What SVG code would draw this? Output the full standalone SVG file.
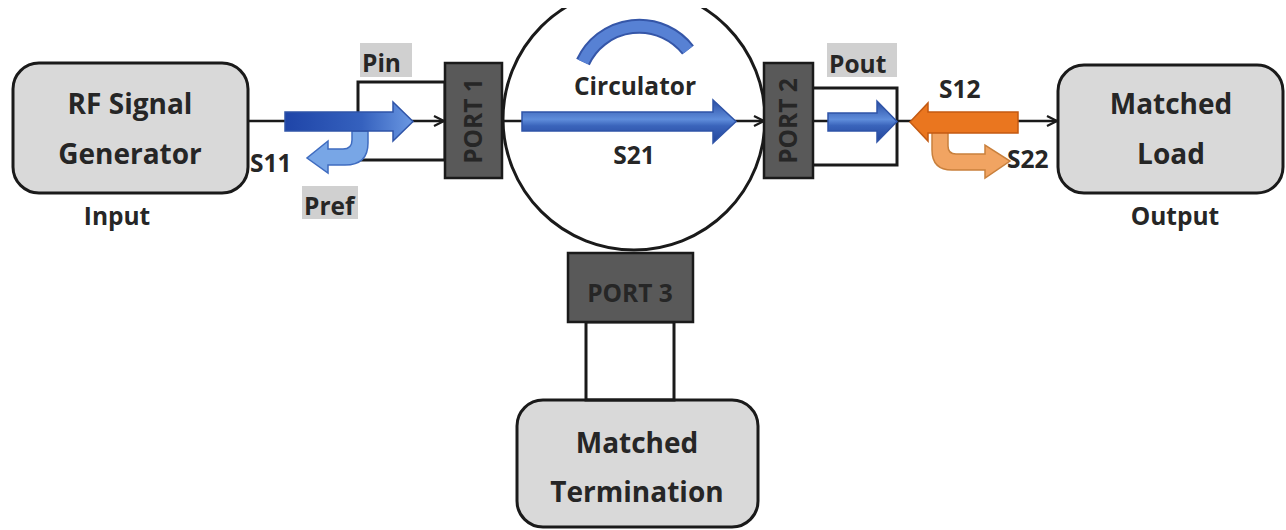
<svg xmlns="http://www.w3.org/2000/svg" width="1286" height="530" viewBox="0 0 1286 530">
  <defs>
    <style>
      .box { fill: #d9d9d9; stroke: #1a1a1a; stroke-width: 3; }
      .port { fill: #595959; stroke: #1a1a1a; stroke-width: 2.5; }
      .frame { fill: none; stroke: #1a1a1a; stroke-width: 3; }
      .wire { fill: none; stroke: #1a1a1a; stroke-width: 2.5; }
      .lblbg { fill: #d0d0d0; }
      text { font-family: "Open Sans", "Liberation Sans", sans-serif; font-weight: 700; fill: #262626; }
      .big { font-size: 28px; text-anchor: middle; }
      .mid { font-size: 24.5px; }
      .ctr { text-anchor: middle; }
      .blue { stroke: #2f54a8; stroke-width: 1.5; stroke-linejoin: miter; }
      .lightblue { fill: #78a6e6; stroke: #3f6cc0; stroke-width: 1.5; }
      .orange { fill: #ea761f; stroke: #c45a12; stroke-width: 1.5; }
      .lightorange { fill: #f1a462; stroke: #c9803c; stroke-width: 1.5; }
    </style>
    <marker id="arr" viewBox="0 0 12 12" refX="11" refY="6" markerWidth="12" markerHeight="12" markerUnits="userSpaceOnUse" orient="auto">
      <path d="M1,1 L11,6 L1,11" fill="none" stroke="#1a1a1a" stroke-width="2.2"/>
    </marker>
    <linearGradient id="gPin" x1="0" y1="0" x2="1" y2="0">
      <stop offset="0" stop-color="#1f45a8"/>
      <stop offset="0.6" stop-color="#3561be"/>
      <stop offset="1" stop-color="#6b98e2"/>
    </linearGradient>
    <linearGradient id="gBand" x1="0" y1="0" x2="0" y2="1">
      <stop offset="0" stop-color="#2a4da2"/>
      <stop offset="0.45" stop-color="#5f8ddb"/>
      <stop offset="0.6" stop-color="#3a64bb"/>
      <stop offset="1" stop-color="#22449a"/>
    </linearGradient>
    <clipPath id="topclip">
      <rect x="0" y="8" width="1286" height="522"/>
    </clipPath>
  </defs>

  <!-- circulator body -->
  <g id="circulator">
    <circle cx="634" cy="119" r="131" fill="#ffffff" stroke="#1a1a1a" stroke-width="3" clip-path="url(#topclip)"/>
    <path d="M583 62 A62 62 0 0 1 688 50" fill="none" stroke="#3556a8" stroke-width="15"/>
    <path d="M583 62 A62 62 0 0 1 688 50" fill="none" stroke="#5781d4" stroke-width="11"/>
    <text class="mid ctr" x="635" y="95">Circulator</text>
    <text class="mid ctr" x="634" y="164">S21</text>
  </g>

  <!-- source -->
  <g id="generator">
    <rect class="box" x="13" y="63" width="235" height="130" rx="26"/>
    <text class="big" x="130" y="114">RF Signal</text>
    <text class="big" x="130" y="164">Generator</text>
    <text class="mid ctr" x="117" y="225">Input</text>
  </g>

  <!-- load -->
  <g id="load">
    <rect class="box" x="1058" y="65" width="225" height="128" rx="26"/>
    <text class="big" x="1171" y="114">Matched</text>
    <text class="big" x="1171" y="164">Load</text>
    <text class="mid ctr" x="1175" y="225">Output</text>
  </g>

  <!-- termination on port 3 -->
  <g id="termination">
    <rect class="box" x="517" y="400" width="241" height="127" rx="26"/>
    <text class="big" x="637" y="453">Matched</text>
    <text class="big" x="637" y="502">Termination</text>
  </g>

  <!-- connectors -->
  <g id="connectors">
    <rect class="frame" x="358" y="82" width="87" height="78"/>
    <rect class="frame" x="812" y="88" width="85" height="77"/>
    <rect class="frame" x="586" y="322" width="88" height="78"/>
    <line class="wire" x1="248" y1="121" x2="444" y2="121" marker-end="url(#arr)"/>
    <line class="wire" x1="502" y1="121" x2="764" y2="121" marker-end="url(#arr)"/>
    <line class="wire" x1="813" y1="121" x2="1057" y2="121" marker-end="url(#arr)"/>
  </g>

  <!-- ports -->
  <g id="port1">
    <rect class="port" x="445" y="63" width="57" height="115"/>
    <text class="mid ctr" transform="translate(482 121) rotate(-90)">PORT 1</text>
  </g>
  <g id="port2">
    <rect class="port" x="764" y="63" width="49" height="115"/>
    <text class="mid ctr" transform="translate(797 121) rotate(-90)">PORT 2</text>
  </g>
  <g id="port3">
    <rect class="port" x="568" y="253" width="125" height="69"/>
    <text class="mid ctr" x="630" y="302">PORT 3</text>
  </g>

  <!-- input side: incident and reflected power -->
  <g id="pin">
    <rect class="lblbg" x="360" y="43" width="52" height="34"/>
    <text class="mid" x="362" y="72">Pin</text>
    <path class="lightblue" d="M352 131 L352 140 Q352 149 343 149 L328 149 L328 141 L307 158 L328 173 L328 165 L345 165 Q368 165 368 143 L368 131 Z"/>
    <path class="blue" fill="url(#gPin)" d="M285 112 L393 112 L393 102 L413 121.5 L393 141 L393 131 L285 131 Z"/>
  </g>
  <g id="pref">
    <text class="mid" x="250" y="172">S11</text>
    <rect class="lblbg" x="302" y="186" width="56" height="33"/>
    <text class="mid" x="304" y="215">Pref</text>
  </g>

  <!-- transmitted power through the circulator -->
  <g id="s21">
    <path class="blue" fill="url(#gBand)" d="M522 112 L713 112 L713 100 L736 121.5 L713 143 L713 131 L522 131 Z"/>
  </g>

  <!-- output side -->
  <g id="pout">
    <rect class="lblbg" x="827" y="43" width="70" height="34"/>
    <text class="mid" x="829" y="73">Pout</text>
    <path class="blue" fill="url(#gBand)" d="M828 113 L877 113 L877 101 L897 121.5 L877 142 L877 131 L828 131 Z"/>
  </g>
  <g id="s12">
    <path class="lightorange" d="M932 132 L932 150 Q932 170 952 170 L985 170 L985 178 L1010 161 L985 145 L985 154 L956 154 Q948 154 948 146 L948 132 Z"/>
    <path class="orange" d="M910 122 L928 103 L928 112 L1018 112 L1018 133 L928 133 L928 141 Z"/>
    <text class="mid" x="939" y="98">S12</text>
    <text class="mid" x="1007" y="168">S22</text>
  </g>
</svg>
